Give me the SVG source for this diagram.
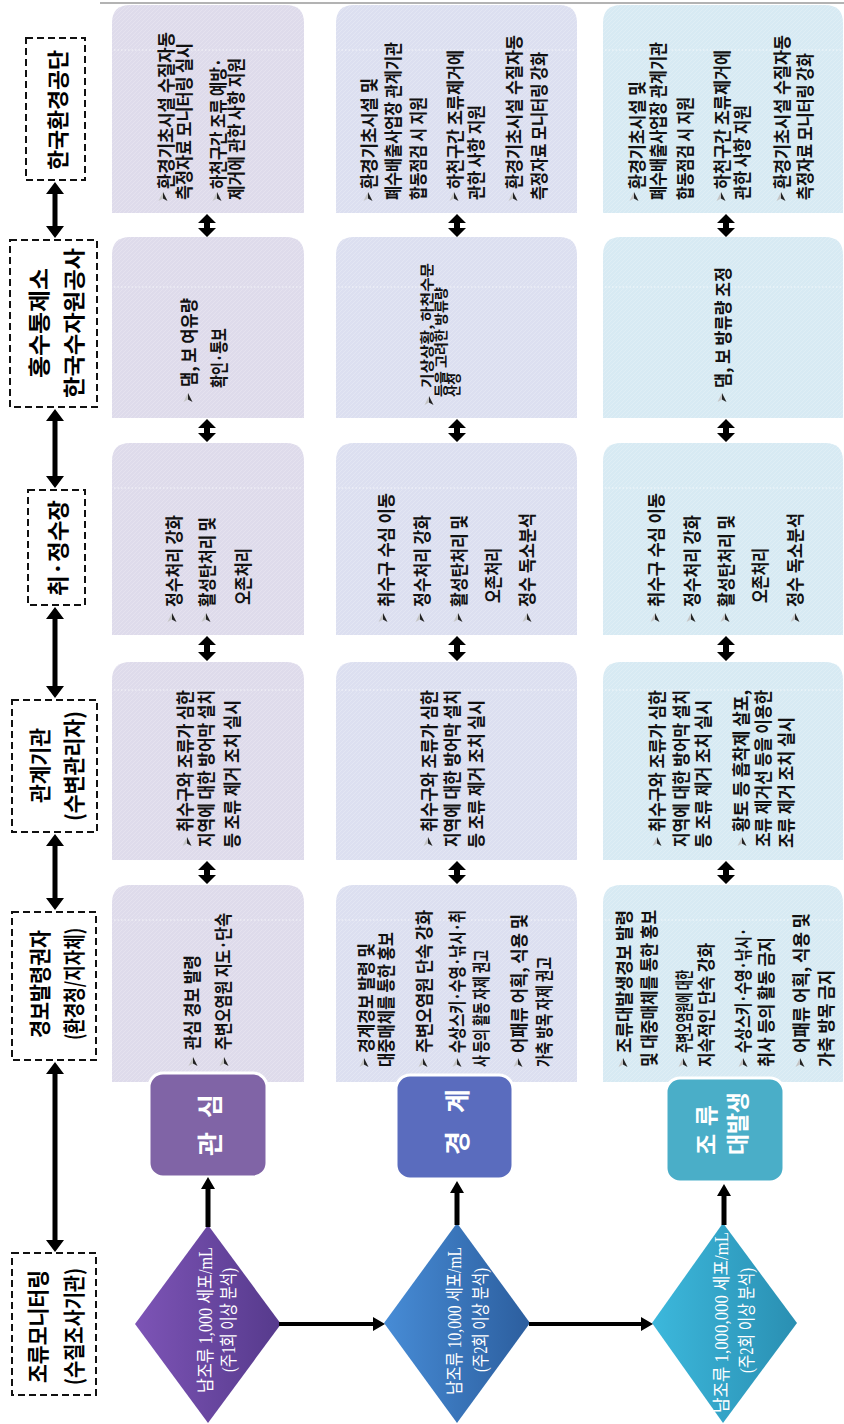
<svg xmlns="http://www.w3.org/2000/svg" width="844" height="1424" viewBox="0 0 844 1424">
<defs>
<style>
.hb{fill:#fff;stroke:#111;stroke-width:2;stroke-dasharray:7 4}
.h{font-family:"Noto Sans CJK KR","Noto Sans",sans-serif;font-size:22px;font-weight:700;fill:#000;dominant-baseline:central}
.c{font-family:"Noto Sans CJK KR","Noto Sans",sans-serif;font-size:18px;font-weight:700;fill:#111;dominant-baseline:central}
.c2{font-family:"Noto Sans CJK KR","Noto Sans",sans-serif;font-size:14px;font-weight:700;fill:#111;dominant-baseline:central}
.d{font-family:"Liberation Serif","Noto Sans CJK KR",serif;font-size:18px;fill:#fff;dominant-baseline:central}
.lv{font-family:"Noto Sans CJK KR","Noto Sans",sans-serif;font-size:26px;font-weight:700;fill:#fff;dominant-baseline:central}
.ar{fill:#000}
.fl{stroke:#fff;stroke-opacity:.7;stroke-width:1;stroke-dasharray:1.5 2}
.lb{stroke:#fff;stroke-width:3}
</style>
<pattern id="p1" patternUnits="userSpaceOnUse" width="4" height="4"><rect width="4" height="4" fill="#dedbeb"/><path d="M0 4L4 0" stroke="#fff" stroke-opacity=".35" stroke-width=".6"/></pattern>
<pattern id="p2" patternUnits="userSpaceOnUse" width="4" height="4"><rect width="4" height="4" fill="#dcdff0"/><path d="M0 4L4 0" stroke="#fff" stroke-opacity=".35" stroke-width=".6"/></pattern>
<pattern id="p3" patternUnits="userSpaceOnUse" width="4" height="4"><rect width="4" height="4" fill="#d7eaf3"/><path d="M0 4L4 0" stroke="#fff" stroke-opacity=".35" stroke-width=".6"/></pattern>
<linearGradient id="g1" x1="0" y1="0" x2="1" y2="0"><stop offset="0" stop-color="#7d54b6"/><stop offset="1" stop-color="#563a8c"/></linearGradient>
<linearGradient id="g2" x1="0" y1="0" x2="1" y2="0"><stop offset="0" stop-color="#478cd6"/><stop offset="1" stop-color="#2c5e9e"/></linearGradient>
<linearGradient id="g3" x1="0" y1="0" x2="1" y2="0"><stop offset="0" stop-color="#3cb8dc"/><stop offset="1" stop-color="#2a8fb2"/></linearGradient>
<g id="bul"><polygon points="0,-5 -4.5,4 0,1.5" fill="#c4c4c4"/><polygon points="0,-5 4.5,4 0,1.5" fill="#222"/></g>
</defs>
<rect width="844" height="1424" fill="#fff"/>
<line x1="100" y1="3" x2="844" y2="3" stroke="#9a9a9a" stroke-width="1.5"/>

<!-- headers -->
<g id="h-env">
<rect class="hb" x="26" y="38" width="59" height="142"/>
<text class="h" transform="rotate(-90)" x="-170" y="56" textLength="120" lengthAdjust="spacingAndGlyphs">한국환경공단</text>
</g>
<g id="h-flood">
<rect class="hb" x="10" y="240" width="87" height="167"/>
<text class="h" transform="rotate(-90)" x="-378" y="37" textLength="110" lengthAdjust="spacingAndGlyphs">홍수통제소</text>
<text class="h" transform="rotate(-90)" x="-398" y="72" textLength="150" lengthAdjust="spacingAndGlyphs">한국수자원공사</text>
</g>
<g id="h-plant">
<rect class="hb" x="28" y="490" width="57" height="115"/>
<text class="h" transform="rotate(-90)" x="-596" y="56" textLength="96" lengthAdjust="spacingAndGlyphs">취·정수장</text>
</g>
<g id="h-agency">
<rect class="hb" x="12" y="700" width="85" height="132"/>
<text class="h" transform="rotate(-90)" x="-803" y="38" textLength="75" lengthAdjust="spacingAndGlyphs">관계기관</text>
<text class="h" transform="rotate(-90)" x="-821" y="72" textLength="110" lengthAdjust="spacingAndGlyphs">(수변관리자)</text>
</g>
<g id="h-alert">
<rect class="hb" x="12" y="912" width="84" height="148"/>
<text class="h" transform="rotate(-90)" x="-1038" y="38" textLength="108" lengthAdjust="spacingAndGlyphs">경보발령권자</text>
<text class="h" transform="rotate(-90)" x="-1040" y="72" textLength="112" lengthAdjust="spacingAndGlyphs">(환경청/지자체)</text>
</g>
<g id="h-monitor">
<rect class="hb" x="12" y="1253" width="84" height="142"/>
<text class="h" transform="rotate(-90)" x="-1383" y="36" textLength="113" lengthAdjust="spacingAndGlyphs">조류모니터링</text>
<text class="h" transform="rotate(-90)" x="-1385" y="72" textLength="117" lengthAdjust="spacingAndGlyphs">(수질조사기관)</text>
</g>

<!-- row 1 cells -->
<g id="r1c1">
<path d="M112 213V23Q112 5 130 5H286Q304 5 304 23V213Z" fill="url(#p1)"/>
<line class="fl" x1="114" y1="50" x2="302" y2="50"/>
<use href="#bul" x="163" y="197"/><use href="#bul" x="217" y="197"/>
<text class="c" transform="rotate(-90)" x="-189" y="165" textLength="157" lengthAdjust="spacingAndGlyphs">환경기초시설 수질자동</text>
<text class="c" transform="rotate(-90)" x="-200" y="183" textLength="157" lengthAdjust="spacingAndGlyphs">측정자료 모니터링 실시</text>
<text class="c" transform="rotate(-90)" x="-189" y="217" textLength="131" lengthAdjust="spacingAndGlyphs">하천구간 조류 예방·</text>
<text class="c" transform="rotate(-90)" x="-200" y="235" textLength="142" lengthAdjust="spacingAndGlyphs">제거에 관한 사항 지원</text>
</g>
<g id="r1c2">
<path d="M112 418V255Q112 237 130 237H286Q304 237 304 255V418Z" fill="url(#p1)"/>
<line class="fl" x1="114" y1="287" x2="302" y2="287"/>
<use href="#bul" x="188" y="398"/>
<text class="c" transform="rotate(-90)" x="-387" y="188" textLength="89" lengthAdjust="spacingAndGlyphs">댐, 보 여유량</text>
<text class="c" transform="rotate(-90)" x="-388" y="218" textLength="60" lengthAdjust="spacingAndGlyphs">확인·통보</text>
</g>
<g id="r1c3">
<path d="M112 635V461Q112 443 130 443H286Q304 443 304 461V635Z" fill="url(#p1)"/>
<line class="fl" x1="114" y1="488" x2="302" y2="488"/>
<use href="#bul" x="172" y="618"/><use href="#bul" x="206" y="618"/>
<text class="c" transform="rotate(-90)" x="-607" y="173" textLength="92" lengthAdjust="spacingAndGlyphs">정수처리 강화</text>
<text class="c" transform="rotate(-90)" x="-607" y="206" textLength="90" lengthAdjust="spacingAndGlyphs">활성탄처리 및</text>
<text class="c" transform="rotate(-90)" x="-605" y="242" textLength="57" lengthAdjust="spacingAndGlyphs">오존처리</text>
</g>
<g id="r1c4">
<path d="M112 860V680Q112 662 130 662H286Q304 662 304 680V860Z" fill="url(#p1)"/>
<line class="fl" x1="114" y1="690" x2="302" y2="690"/>
<use href="#bul" x="187" y="842"/>
<text class="c" transform="rotate(-90)" x="-832" y="184" textLength="142" lengthAdjust="spacingAndGlyphs">취수구와 조류가 심한</text>
<text class="c" transform="rotate(-90)" x="-847" y="205" textLength="157" lengthAdjust="spacingAndGlyphs">지역에 대한 방어막 설치</text>
<text class="c" transform="rotate(-90)" x="-848" y="231" textLength="148" lengthAdjust="spacingAndGlyphs">등 조류 제거 조치 실시</text>
</g>
<g id="r1c5">
<path d="M112 1082V903Q112 885 130 885H286Q304 885 304 903V1082Z" fill="url(#p1)"/>
<line class="fl" x1="114" y1="920" x2="302" y2="920"/>
<use href="#bul" x="193" y="1062"/><use href="#bul" x="224" y="1062"/>
<text class="c" transform="rotate(-90)" x="-1050" y="191" textLength="95" lengthAdjust="spacingAndGlyphs">관심 경보 발령</text>
<text class="c" transform="rotate(-90)" x="-1050" y="222" textLength="137" lengthAdjust="spacingAndGlyphs">주변오염원 지도·단속</text>
</g>

<!-- row 2 cells -->
<g id="r2c1">
<path d="M336 213V23Q336 5 354 5H559Q577 5 577 23V213Z" fill="url(#p2)"/>
<line class="fl" x1="338" y1="50" x2="575" y2="50"/>
<use href="#bul" x="368" y="197"/><use href="#bul" x="454" y="197"/><use href="#bul" x="513" y="197"/>
<text class="c" transform="rotate(-90)" x="-189" y="368" textLength="111" lengthAdjust="spacingAndGlyphs">환경기초시설 및</text>
<text class="c" transform="rotate(-90)" x="-200" y="392" textLength="158" lengthAdjust="spacingAndGlyphs">폐수배출사업장 관계기관</text>
<text class="c" transform="rotate(-90)" x="-200" y="417" textLength="103" lengthAdjust="spacingAndGlyphs">합동점검 시 지원</text>
<text class="c" transform="rotate(-90)" x="-189" y="454" textLength="139" lengthAdjust="spacingAndGlyphs">하천구간 조류제거에</text>
<text class="c" transform="rotate(-90)" x="-200" y="475" textLength="95" lengthAdjust="spacingAndGlyphs">관한 사항 지원</text>
<text class="c" transform="rotate(-90)" x="-189" y="513" textLength="154" lengthAdjust="spacingAndGlyphs">환경기초시설 수질자동</text>
<text class="c" transform="rotate(-90)" x="-200" y="538" textLength="148" lengthAdjust="spacingAndGlyphs">측정자료 모니터링 강화</text>
</g>
<g id="r2c2">
<path d="M336 418V255Q336 237 354 237H559Q577 237 577 255V418Z" fill="url(#p2)"/>
<line class="fl" x1="338" y1="287" x2="575" y2="287"/>
<use href="#bul" x="429" y="401"/>
<text class="c2" transform="rotate(-90)" x="-388" y="426" textLength="125" lengthAdjust="spacingAndGlyphs">기상상황, 하천수문</text>
<text class="c2" transform="rotate(-90)" x="-397" y="440" textLength="110" lengthAdjust="spacingAndGlyphs">등을 고려한 방류량</text>
<text class="c2" transform="rotate(-90)" x="-397" y="453" textLength="24" lengthAdjust="spacingAndGlyphs">산정</text>
</g>
<g id="r2c3">
<path d="M336 635V461Q336 443 354 443H559Q577 443 577 461V635Z" fill="url(#p2)"/>
<line class="fl" x1="338" y1="488" x2="575" y2="488"/>
<use href="#bul" x="383" y="618"/><use href="#bul" x="420" y="618"/><use href="#bul" x="458" y="618"/><use href="#bul" x="527" y="618"/>
<text class="c" transform="rotate(-90)" x="-607" y="385" textLength="114" lengthAdjust="spacingAndGlyphs">취수구 수심 이동</text>
<text class="c" transform="rotate(-90)" x="-607" y="421" textLength="92" lengthAdjust="spacingAndGlyphs">정수처리 강화</text>
<text class="c" transform="rotate(-90)" x="-607" y="458" textLength="92" lengthAdjust="spacingAndGlyphs">활성탄처리 및</text>
<text class="c" transform="rotate(-90)" x="-603" y="492" textLength="55" lengthAdjust="spacingAndGlyphs">오존처리</text>
<text class="c" transform="rotate(-90)" x="-607" y="526" textLength="94" lengthAdjust="spacingAndGlyphs">정수 독소분석</text>
</g>
<g id="r2c4">
<path d="M336 860V680Q336 662 354 662H559Q577 662 577 680V860Z" fill="url(#p2)"/>
<line class="fl" x1="338" y1="690" x2="575" y2="690"/>
<use href="#bul" x="428" y="842"/>
<text class="c" transform="rotate(-90)" x="-832" y="428" textLength="142" lengthAdjust="spacingAndGlyphs">취수구와 조류가 심한</text>
<text class="c" transform="rotate(-90)" x="-847" y="451" textLength="157" lengthAdjust="spacingAndGlyphs">지역에 대한 방어막 설치</text>
<text class="c" transform="rotate(-90)" x="-848" y="475" textLength="148" lengthAdjust="spacingAndGlyphs">등 조류 제거 조치 실시</text>
</g>
<g id="r2c5">
<path d="M336 1082V903Q336 885 354 885H559Q577 885 577 903V1082Z" fill="url(#p2)"/>
<line class="fl" x1="338" y1="920" x2="575" y2="920"/>
<use href="#bul" x="364" y="1063"/><use href="#bul" x="423" y="1063"/><use href="#bul" x="457" y="1063"/><use href="#bul" x="518" y="1063"/>
<text class="c" transform="rotate(-90)" x="-1053" y="365" textLength="110" lengthAdjust="spacingAndGlyphs">경계경보 발령 및</text>
<text class="c" transform="rotate(-90)" x="-1067" y="385" textLength="135" lengthAdjust="spacingAndGlyphs">대중매체를 통한 홍보</text>
<text class="c" transform="rotate(-90)" x="-1053" y="423" textLength="143" lengthAdjust="spacingAndGlyphs">주변오염원 단속 강화</text>
<text class="c" transform="rotate(-90)" x="-1053" y="456" textLength="143" lengthAdjust="spacingAndGlyphs">수상스키·수영·낚시·취</text>
<text class="c" transform="rotate(-90)" x="-1067" y="480" textLength="117" lengthAdjust="spacingAndGlyphs">사 등의 활동 자제 권고</text>
<text class="c" transform="rotate(-90)" x="-1053" y="518" textLength="139" lengthAdjust="spacingAndGlyphs">어패류 어획, 식용 및</text>
<text class="c" transform="rotate(-90)" x="-1067" y="543" textLength="110" lengthAdjust="spacingAndGlyphs">가축 방목 자제 권고</text>
</g>

<!-- row 3 cells -->
<g id="r3c1">
<path d="M603 213V23Q603 5 621 5H825Q843 5 843 23V213Z" fill="url(#p3)"/>
<line class="fl" x1="605" y1="50" x2="841" y2="50"/>
<use href="#bul" x="634" y="197"/><use href="#bul" x="721" y="197"/><use href="#bul" x="781" y="197"/>
<text class="c" transform="rotate(-90)" x="-189" y="636" textLength="108" lengthAdjust="spacingAndGlyphs">환경기초시설 및</text>
<text class="c" transform="rotate(-90)" x="-200" y="657" textLength="158" lengthAdjust="spacingAndGlyphs">폐수배출사업장 관계기관</text>
<text class="c" transform="rotate(-90)" x="-200" y="684" textLength="103" lengthAdjust="spacingAndGlyphs">합동점검 시 지원</text>
<text class="c" transform="rotate(-90)" x="-189" y="721" textLength="139" lengthAdjust="spacingAndGlyphs">하천구간 조류제거에</text>
<text class="c" transform="rotate(-90)" x="-200" y="741" textLength="95" lengthAdjust="spacingAndGlyphs">관한 사항 지원</text>
<text class="c" transform="rotate(-90)" x="-189" y="781" textLength="154" lengthAdjust="spacingAndGlyphs">환경기초시설 수질자동</text>
<text class="c" transform="rotate(-90)" x="-200" y="804" textLength="147" lengthAdjust="spacingAndGlyphs">측정자료 모니터링 강화</text>
</g>
<g id="r3c2">
<path d="M603 418V255Q603 237 621 237H825Q843 237 843 255V418Z" fill="url(#p3)"/>
<line class="fl" x1="605" y1="287" x2="841" y2="287"/>
<use href="#bul" x="722" y="398"/>
<text class="c" transform="rotate(-90)" x="-388" y="722" textLength="121" lengthAdjust="spacingAndGlyphs">댐, 보 방류량 조정</text>
</g>
<g id="r3c3">
<path d="M603 635V461Q603 443 621 443H825Q843 443 843 461V635Z" fill="url(#p3)"/>
<line class="fl" x1="605" y1="488" x2="841" y2="488"/>
<use href="#bul" x="655" y="618"/><use href="#bul" x="691" y="618"/><use href="#bul" x="725" y="618"/><use href="#bul" x="795" y="618"/>
<text class="c" transform="rotate(-90)" x="-607" y="655" textLength="114" lengthAdjust="spacingAndGlyphs">취수구 수심 이동</text>
<text class="c" transform="rotate(-90)" x="-607" y="691" textLength="92" lengthAdjust="spacingAndGlyphs">정수처리 강화</text>
<text class="c" transform="rotate(-90)" x="-607" y="725" textLength="92" lengthAdjust="spacingAndGlyphs">활성탄처리 및</text>
<text class="c" transform="rotate(-90)" x="-603" y="759" textLength="55" lengthAdjust="spacingAndGlyphs">오존처리</text>
<text class="c" transform="rotate(-90)" x="-607" y="794" textLength="94" lengthAdjust="spacingAndGlyphs">정수 독소분석</text>
</g>
<g id="r3c4">
<path d="M603 860V680Q603 662 621 662H825Q843 662 843 680V860Z" fill="url(#p3)"/>
<line class="fl" x1="605" y1="690" x2="841" y2="690"/>
<use href="#bul" x="657" y="842"/><use href="#bul" x="742" y="842"/>
<text class="c" transform="rotate(-90)" x="-832" y="656" textLength="142" lengthAdjust="spacingAndGlyphs">취수구와 조류가 심한</text>
<text class="c" transform="rotate(-90)" x="-847" y="680" textLength="157" lengthAdjust="spacingAndGlyphs">지역에 대한 방어막 설치</text>
<text class="c" transform="rotate(-90)" x="-848" y="702" textLength="148" lengthAdjust="spacingAndGlyphs">등 조류 제거 조치 실시</text>
<text class="c" transform="rotate(-90)" x="-832" y="740" textLength="142" lengthAdjust="spacingAndGlyphs">황토 등 흡착제 살포,</text>
<text class="c" transform="rotate(-90)" x="-847" y="762" textLength="157" lengthAdjust="spacingAndGlyphs">조류 제거선 등을 이용한</text>
<text class="c" transform="rotate(-90)" x="-848" y="785" textLength="131" lengthAdjust="spacingAndGlyphs">조류 제거 조치 실시</text>
</g>
<g id="r3c5">
<path d="M603 1082V903Q603 885 621 885H825Q843 885 843 903V1082Z" fill="url(#p3)"/>
<line class="fl" x1="605" y1="920" x2="841" y2="920"/>
<use href="#bul" x="623" y="1063"/><use href="#bul" x="683" y="1063"/><use href="#bul" x="743" y="1063"/><use href="#bul" x="800" y="1063"/>
<text class="c" transform="rotate(-90)" x="-1053" y="623" textLength="143" lengthAdjust="spacingAndGlyphs">조류대발생경보 발령</text>
<text class="c" transform="rotate(-90)" x="-1067" y="648" textLength="157" lengthAdjust="spacingAndGlyphs">및 대중매체를 통한 홍보</text>
<text class="c" transform="rotate(-90)" x="-1053" y="683" textLength="83" lengthAdjust="spacingAndGlyphs">주변오염원에 대한</text>
<text class="c" transform="rotate(-90)" x="-1067" y="705" textLength="124" lengthAdjust="spacingAndGlyphs">지속적인 단속 강화</text>
<text class="c" transform="rotate(-90)" x="-1053" y="742" textLength="125" lengthAdjust="spacingAndGlyphs">수상스키·수영·낚시·</text>
<text class="c" transform="rotate(-90)" x="-1067" y="765" textLength="130" lengthAdjust="spacingAndGlyphs">취사 등의 활동 금지</text>
<text class="c" transform="rotate(-90)" x="-1053" y="800" textLength="140" lengthAdjust="spacingAndGlyphs">어패류 어획, 식용 및</text>
<text class="c" transform="rotate(-90)" x="-1067" y="825" textLength="97" lengthAdjust="spacingAndGlyphs">가축 방목 금지</text>
</g>

<!-- level boxes -->
<g id="lv-interest">
<rect class="lb" x="149" y="1073" width="118" height="104" rx="14" fill="#8064a6"/>
<text class="lv" transform="rotate(-90)" x="-1125" y="208" text-anchor="middle" textLength="62">관 심</text>
</g>
<g id="lv-caution">
<rect class="lb" x="396" y="1075" width="117" height="104" rx="14" fill="#5a6cbe"/>
<text class="lv" transform="rotate(-90)" x="-1122" y="455" text-anchor="middle" textLength="66">경 계</text>
</g>
<g id="lv-bloom">
<rect class="lb" x="666" y="1078" width="118" height="104" rx="14" fill="#4aaec8"/>
<text class="lv" transform="rotate(-90)" x="-1155" y="705" textLength="50" style="font-size:23px">조 류</text>
<text class="lv" transform="rotate(-90)" x="-1155" y="736" textLength="63" style="font-size:23px">대발생</text>
</g>

<!-- diamonds -->
<g id="dm-1">
<polygon points="208,1225 281,1324 208,1423 135,1324" fill="url(#g1)"/>
<text class="d" transform="rotate(-90)" x="-1393" y="206" textLength="146" lengthAdjust="spacingAndGlyphs">남조류 1,000 세포/mL</text>
<text class="d" transform="rotate(-90)" x="-1372" y="229" textLength="104" lengthAdjust="spacingAndGlyphs">(주1회 이상 분석)</text>
</g>
<g id="dm-2">
<polygon points="457,1223 530,1323 457,1423 384,1323" fill="url(#g2)"/>
<text class="d" transform="rotate(-90)" x="-1395" y="455" textLength="148" lengthAdjust="spacingAndGlyphs">남조류 10,000 세포/mL</text>
<text class="d" transform="rotate(-90)" x="-1372" y="481" textLength="104" lengthAdjust="spacingAndGlyphs">(주2회 이상 분석)</text>
</g>
<g id="dm-3">
<polygon points="723,1223 797,1323 723,1423 652,1323" fill="url(#g3)"/>
<text class="d" transform="rotate(-90)" x="-1413" y="722" textLength="181" lengthAdjust="spacingAndGlyphs">남조류 1,000,000 세포/mL</text>
<text class="d" transform="rotate(-90)" x="-1373" y="747" textLength="105" lengthAdjust="spacingAndGlyphs">(주2회 이상 분석)</text>
</g>

<!-- connectors -->
<g id="connectors" class="ar">
<polygon points="55,182 64,194 57.5,194 57.5,226 64,226 55,238 46,226 52.5,226 52.5,194 46,194"/>
<polygon points="55,409 64,421 57.5,421 57.5,476 64,476 55,488 46,476 52.5,476 52.5,421 46,421"/>
<polygon points="55,607 64,619 57.5,619 57.5,686 64,686 55,698 46,686 52.5,686 52.5,619 46,619"/>
<polygon points="55,834 64,846 57.5,846 57.5,898 64,898 55,910 46,898 52.5,898 52.5,846 46,846"/>
<polygon points="55,1062 64,1074 57.5,1074 57.5,1240 64,1240 55,1252 46,1240 52.5,1240 52.5,1074 46,1074"/>

<polygon points="207,214 216,223 210,223 210,228 216,228 207,237 198,228 204,228 204,223 198,223"/>
<polygon points="207,419 216,428 210,428 210,433 216,433 207,442 198,433 204,433 204,428 198,428"/>
<polygon points="207,636 216,645 210,645 210,652 216,652 207,661 198,652 204,652 204,645 198,645"/>
<polygon points="207,861 216,870 210,870 210,875 216,875 207,884 198,875 204,875 204,870 198,870"/>
<polygon points="457,214 466,223 460,223 460,228 466,228 457,237 448,228 454,228 454,223 448,223"/>
<polygon points="457,419 466,428 460,428 460,433 466,433 457,442 448,433 454,433 454,428 448,428"/>
<polygon points="457,636 466,645 460,645 460,652 466,652 457,661 448,652 454,652 454,645 448,645"/>
<polygon points="457,861 466,870 460,870 460,875 466,875 457,884 448,875 454,875 454,870 448,870"/>
<polygon points="726,214 735,223 729,223 729,228 735,228 726,237 717,228 723,228 723,223 717,223"/>
<polygon points="726,419 735,428 729,428 729,433 735,433 726,442 717,433 723,433 723,428 717,428"/>
<polygon points="726,636 735,645 729,645 729,652 735,652 726,661 717,652 723,652 723,645 717,645"/>
<polygon points="726,861 735,870 729,870 729,875 735,875 726,884 717,875 723,875 723,870 717,870"/>

<polygon points="208,1177 215,1189 210.5,1189 210.5,1227 205.5,1227 205.5,1189 201,1189"/>
<polygon points="457,1181 464,1193 459.5,1193 459.5,1225 454.5,1225 454.5,1193 450,1193"/>
<polygon points="724,1184 731,1196 726.5,1196 726.5,1225 721.5,1225 721.5,1196 717,1196"/>

<polygon points="279,1322 373,1322 373,1317 385,1324 373,1331 373,1326 279,1326"/>
<polygon points="529,1322 641,1322 641,1317 653,1324 641,1331 641,1326 529,1326"/>
</g>
</svg>
